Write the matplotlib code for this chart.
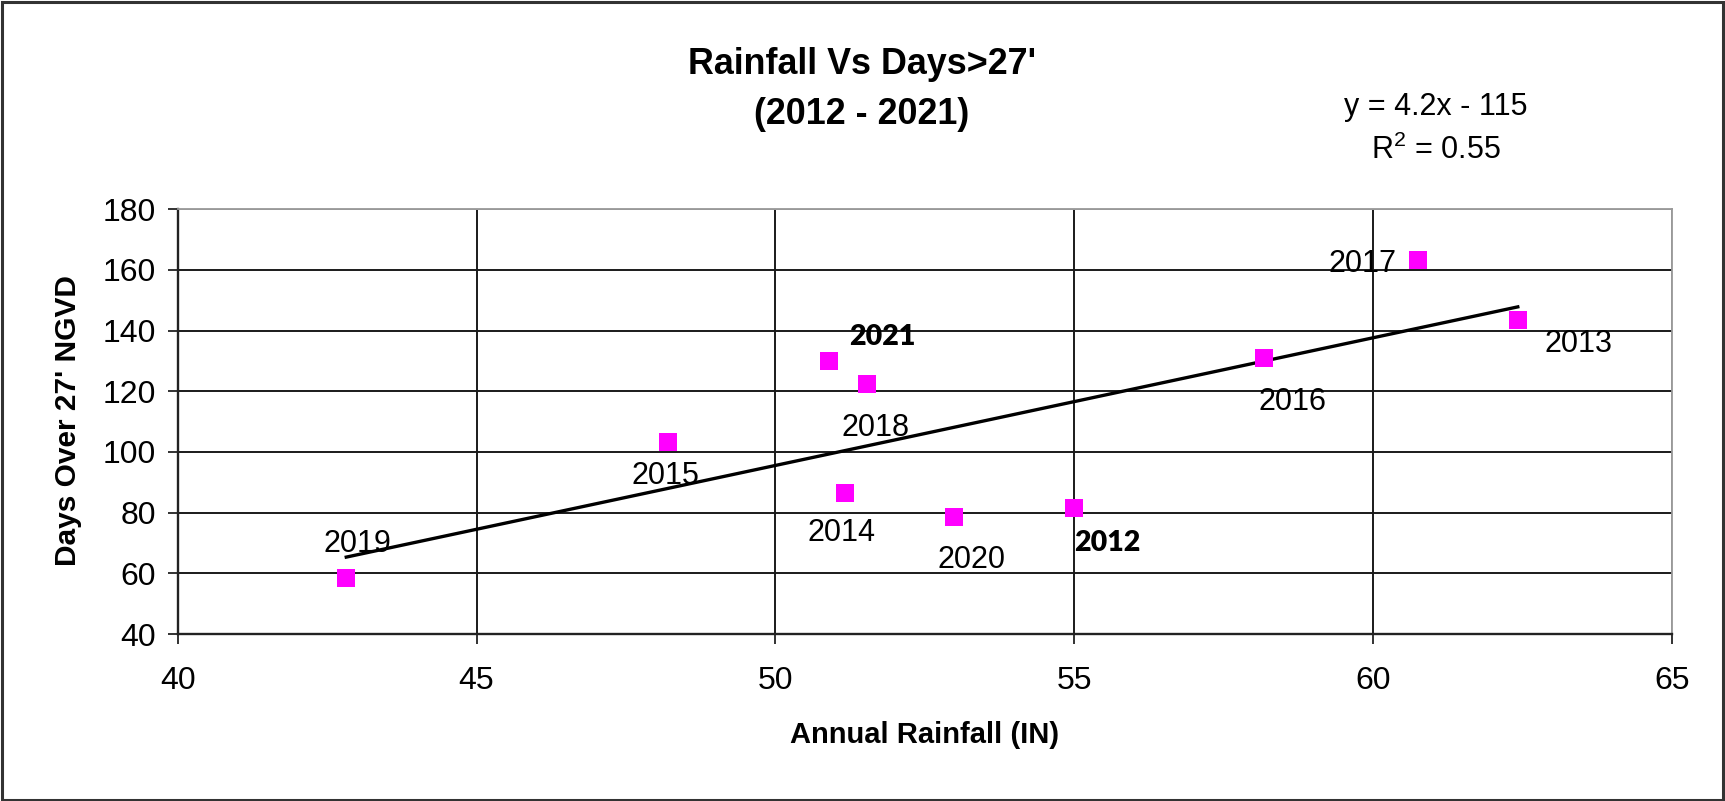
import numpy as np
import matplotlib
matplotlib.use("Agg")
import matplotlib.pyplot as plt
from matplotlib.patches import Rectangle

# ---- data ----
years = ["2019", "2015", "2021", "2018", "2014", "2020", "2012", "2016", "2017", "2013"]
rainfall = [42.82, 48.20, 50.89, 51.53, 51.16, 52.98, 55.00, 58.17, 60.75, 62.42]
days = [58.3, 103.2, 130.0, 122.4, 86.5, 78.6, 81.4, 131.1, 163.4, 143.5]
bold_years = ["2021", "2012"]
# label offsets (points) relative to each marker
label_dx = [8, -2, 39, 6, -2, 13, 24, 21, -40, 44]
label_dy = [25, -24, 17, -32, -29, -31, -25, -32, -3, -17]
x_ticks = [40, 45, 50, 55, 60, 65]
y_ticks = [40, 60, 80, 100, 120, 140, 160, 180]
eq_text = "y = 4.2x - 115"
r2_text = "R$^{2}$ = 0.55"

plt.rcParams['font.family'] = ['Liberation Sans', 'DejaVu Sans']
plt.rcParams['mathtext.fontset'] = 'custom'
plt.rcParams['mathtext.rm'] = 'Liberation Sans'
plt.rcParams['mathtext.it'] = 'Liberation Sans'

fig = plt.figure(figsize=(17.25, 8.01), dpi=100)
W, H = 1725, 801
l, r, t, b = 177.7, 1672, 209.3, 634
ax = fig.add_axes([l / W, 1 - b / H, (r - l) / W, (b - t) / H])

ax.set_xlim(40, 65)
ax.set_ylim(40, 180)
ax.set_xticks(x_ticks)
ax.set_yticks(y_ticks)
ax.tick_params(axis='both', direction='out', length=7, width=1.3, color='#222222',
               labelsize=23, labelcolor='black')
ax.tick_params(axis='y', pad=8.5)
ax.tick_params(axis='x', pad=16)

ax.grid(True, color='#1a1a1a', linewidth=1.4, zorder=0)
ax.set_axisbelow(True)
for gl in ax.get_ygridlines()[-1:]:
    gl.set_color('#999999')
for gl in ax.get_xgridlines()[-1:]:
    gl.set_color('#999999')

for s in ['top', 'right']:
    ax.spines[s].set_color('#999999')
    ax.spines[s].set_linewidth(1.3)
for s in ['left', 'bottom']:
    ax.spines[s].set_color('#222222')
    ax.spines[s].set_linewidth(1.7)

# trend line
coef = np.polyfit(rainfall, days, 1)
xs = np.array([min(rainfall), max(rainfall)])
ax.plot(xs, np.polyval(coef, xs), color='black', linewidth=2.4, zorder=3)

# markers
ax.plot(rainfall, days, linestyle='none', marker='s', markersize=13,
        markerfacecolor='#FF00FF', markeredgecolor='#FF00FF', markeredgewidth=0, zorder=4)

for yr, xv, yv, dx, dy in zip(years, rainfall, days, label_dx, label_dy):
    if yr in bold_years:
        ax.annotate(yr, (xv, yv), xytext=(dx, dy), textcoords='offset points',
                    ha='center', va='center', fontsize=20.5, fontweight='heavy',
                    family=['Lato', 'Liberation Sans', 'DejaVu Sans'], color='black', zorder=5)
    else:
        ax.annotate(yr, (xv, yv), xytext=(dx, dy), textcoords='offset points',
                    ha='center', va='center', fontsize=22, color='black', zorder=5)

ax.set_xlabel("Annual Rainfall (IN)", fontsize=21, fontweight='bold')
ax.xaxis.set_label_coords(0.5, -(735 - b) / (b - t), transform=ax.transAxes)
ax.set_ylabel("Days Over 27' NGVD", fontsize=21.5, fontweight='bold')
ax.yaxis.set_label_coords(-(l - 68) / (r - l), 0.5 + ((b + t) / 2 - 421) / (b - t))
ax.xaxis.label.set_va('center')
ax.yaxis.label.set_va('center')

fig.text(862 / W, 1 - 65 / H, "Rainfall Vs Days>27'", ha='center', va='center',
         fontsize=25.8, fontweight='bold')
fig.text(862 / W, 1 - 114 / H, "(2012 - 2021)", ha='center', va='center',
         fontsize=25.8, fontweight='bold')
fig.text(1436 / W, 1 - 107 / H, eq_text, ha='center', va='center', fontsize=22)
fig.text(1436 / W, 1 - 150 / H, r2_text, ha='center', va='center', fontsize=22)

# outer frame
fig.patches.append(Rectangle((1.5 / W, 1.5 / H), (W - 4) / W, (H - 3.5) / H,
                             transform=fig.transFigure, fill=False,
                             edgecolor='#333333', linewidth=2.2))

fig.savefig("out.png", dpi=100, facecolor='white')
